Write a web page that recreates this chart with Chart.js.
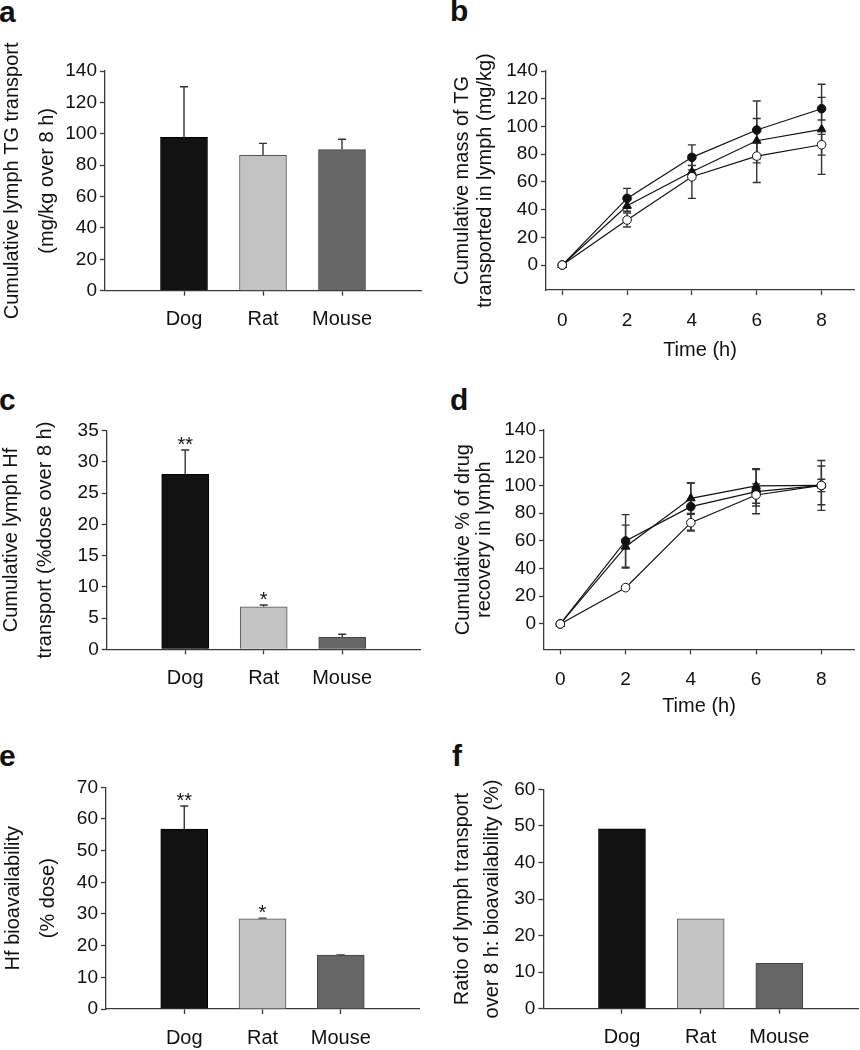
<!DOCTYPE html>
<html><head><meta charset="utf-8">
<script src="https://cdn.jsdelivr.net/npm/chart.js@4.4.0/dist/chart.umd.min.js"></script>
<style>
html,body{margin:0;padding:0;background:#fff;}
body{width:860px;height:1050px;position:relative;overflow:hidden;font-family:"Liberation Sans",Arial,Helvetica,sans-serif;}
.p{position:absolute;}
.lab{position:absolute;font-weight:bold;font-size:30px;line-height:30px;color:#111;}
</style></head><body>
<div class="lab" style="left:-1px;top:-3px">a</div>
<div class="lab" style="left:450px;top:-4px">b</div>
<div class="lab" style="left:-1px;top:385px">c</div>
<div class="lab" style="left:450px;top:385px">d</div>
<div class="lab" style="left:-1px;top:741px">e</div>
<div class="lab" style="left:452px;top:741px">f</div>
<script>
// ---------- data ----------
const species = ['Dog', 'Rat', 'Mouse'];
const speciesColors = ['#121212', '#c3c3c3', '#666666'];
const speciesBorders = ['#000000', '#555555', '#444444'];

// a: cumulative lymph TG transport (mg/kg over 8 h)
const tgTransport = [97.8, 86.3, 89.9];
const tgTransportErr = [32.2, 7.6, 6.6];
const tgTransportTicks = [0, 20, 40, 60, 80, 100, 120, 140];

// c: cumulative lymph Hf transport (%dose over 8 h)
const hfTransport = [28.0, 6.8, 1.9];
const hfTransportErr = [3.9, 0.3, 0.5];
const hfTransportSig = ['**', '*', ''];
const hfTransportTicks = [0, 5, 10, 15, 20, 25, 30, 35];

// e: Hf bioavailability (% dose)
const hfBioavail = [56.8, 28.5, 17.0];
const hfBioavailErr = [7.3, 0.2, 0.1];
const hfBioavailSig = ['**', '*', ''];
const hfBioavailTicks = [0, 10, 20, 30, 40, 50, 60, 70];

// f: ratio of lymph transport over 8 h : bioavailability (%)
const ratioLymphBio = [49.2, 24.6, 12.4];
const ratioTicks = [0, 10, 20, 30, 40, 50, 60];

// b & d: time course
const timeH = [0, 2, 4, 6, 8];
const timeTicks = [0, 2, 4, 6, 8];
const massTicks = [0, 20, 40, 60, 80, 100, 120, 140];

// b: cumulative mass of TG transported in lymph (mg/kg)
const tgMassFilled = [0, 48.1, 77.7, 97.4, 112.8];
const tgMassFilledErr = [0, 7.2, 9.0, 21.0, 8.2];
const tgMassTriangle = [0, 42.8, 67.3, 89.7, 97.9];
const tgMassTriangleErr = [0, 4.0, 4.5, 16.0, 32.5];
const tgMassOpen = [0, 32.5, 63.7, 78.6, 86.8];
const tgMassOpenErr = [0, 5.0, 15.6, 19.0, 7.5];

// d: cumulative % of drug recovery in lymph
const drugRecFilled = [0, 59.9, 84.7, 95.5, 100];
const drugRecFilledErr = [0, 19.0, 17.0, 16.0, 14.0];
const drugRecTriangle = [0, 55.8, 90.7, 99.6, 100];
const drugRecTriangleErr = [0, 15.5, 11.0, 12.5, 4.5];
const drugRecOpen = [0, 26.2, 73.1, 93.1, 100];
const drugRecOpenErr = [0, 1.0, 6.0, 8.0, 18.0];

// ---------- styling / helpers ----------
const FONT = '"Liberation Sans", Arial, Helvetica, sans-serif';
const AXIS = '#3a3a3a';
Chart.defaults.font.family = FONT;
Chart.defaults.color = '#111';

function zeroPad(s) { s.paddingLeft = 0; s.paddingRight = 0; s.paddingTop = 0; s.paddingBottom = 0; }

function addCanvas(box) {
  const d = document.createElement('div');
  d.className = 'p';
  Object.assign(d.style, {left: box.x + 'px', top: box.y + 'px', width: box.w + 'px', height: box.h + 'px'});
  const c = document.createElement('canvas');
  d.appendChild(c);
  document.body.appendChild(d);
  return c;
}

const errorBars = {
  id: 'errorBars',
  beforeDatasetsDraw(chart) {
    const ctx = chart.ctx, ys = chart.scales.y;
    chart.data.datasets.forEach((ds, di) => {
      if (!ds.errors) return;
      const meta = chart.getDatasetMeta(di);
      ctx.save();
      ctx.strokeStyle = '#333';
      ctx.lineWidth = 1.4;
      meta.data.forEach((el, i) => {
        const e = ds.errors[i];
        if (!e) return;
        const v = ds.data[i].y;
        const x = el.x;
        const yT = ys.getPixelForValue(v + e);
        const yB = ds.upperOnly ? ys.getPixelForValue(v) : ys.getPixelForValue(v - e);
        const hw = 4;
        ctx.beginPath();
        ctx.moveTo(x, yT); ctx.lineTo(x, yB);
        ctx.moveTo(x - hw, yT); ctx.lineTo(x + hw, yT);
        if (!ds.upperOnly) { ctx.moveTo(x - hw, yB); ctx.lineTo(x + hw, yB); }
        ctx.stroke();
      });
      ctx.restore();
    });
  },
  afterDatasetsDraw(chart) {
    const ctx = chart.ctx, ys = chart.scales.y;
    chart.data.datasets.forEach((ds, di) => {
      if (!ds.sig) return;
      const meta = chart.getDatasetMeta(di);
      ctx.save();
      ctx.fillStyle = '#111';
      ctx.font = '20px ' + FONT;
      ctx.textAlign = 'center';
      ctx.textBaseline = 'alphabetic';
      meta.data.forEach((el, i) => {
        if (!ds.sig[i]) return;
        const v = ds.data[i].y + (ds.errors ? ds.errors[i] : 0);
        ctx.fillText(ds.sig[i], el.x, ys.getPixelForValue(v) + 1);
      });
      ctx.restore();
    });
  }
};

function yScale(box, area, min, max, tickVals, title) {
  return {
    type: 'linear', min, max,
    afterBuildTicks(s) { s.ticks = tickVals.map(v => ({value: v})); },
    afterFit(s) { s.width = area.l - box.x; zeroPad(s); },
    border: {display: true, color: AXIS, width: 1.3},
    grid: {drawOnChartArea: false, drawTicks: true, tickLength: 5, tickColor: AXIS, tickWidth: 1.3},
    ticks: {color: '#111', font: {size: 19}, padding: 3, autoSkip: false},
    title: {display: true, text: title.text, color: '#111', align: 'center',
      font: {size: 20, lineHeight: title.lh / 20}, padding: {top: title.pad, bottom: 0}}
  };
}

function layoutPad(box, area, xH) {
  return {left: 0, top: area.t - box.y, right: box.x + box.w - area.r, bottom: box.y + box.h - area.b - xH};
}

function barPanel(box, area, xH, vals, errs, sig, yMax, tickVals, title) {
  const ds = {
    data: species.map((s, i) => ({x: i + 1, y: vals[i]})),
    backgroundColor: speciesColors, borderColor: speciesBorders, borderWidth: 1,
    barThickness: 47, borderSkipped: 'bottom'
  };
  if (errs) { ds.errors = errs; ds.upperOnly = true; }
  if (sig) ds.sig = sig;
  new Chart(addCanvas(box), {
    type: 'bar',
    data: {datasets: [ds]},
    plugins: [errorBars],
    options: {
      responsive: true, maintainAspectRatio: false, animation: false,
      layout: {padding: layoutPad(box, area, xH)},
      plugins: {legend: {display: false}, tooltip: {enabled: false}},
      scales: {
        x: {
          type: 'linear', min: 0, max: 4, offset: false,
          afterBuildTicks(s) { s.ticks = species.map((_, i) => ({value: i + 1})); },
          afterFit(s) { s.height = xH; zeroPad(s); },
          border: {display: true, color: AXIS, width: 1.3},
          grid: {offset: false, drawOnChartArea: false, drawTicks: true, tickLength: 5, tickColor: AXIS, tickWidth: 1.3},
          ticks: {callback: v => species[v - 1], color: '#111', font: {size: 20}, padding: 12, maxRotation: 0, autoSkip: false}
        },
        y: yScale(box, area, 0, yMax, tickVals, title)
      }
    }
  });
}

function linePanel(box, area, xH, series, yMin, title) {
  const datasets = series.map(s => ({
    data: timeH.map((t, i) => ({x: t, y: s.vals[i]})),
    errors: s.errs, upperOnly: false,
    borderColor: '#111', borderWidth: 1.2, tension: 0,
    pointStyle: s.style, pointRadius: s.r,
    pointBackgroundColor: s.fill, pointBorderColor: '#111', pointBorderWidth: 1
  }));
  new Chart(addCanvas(box), {
    type: 'line',
    data: {datasets},
    plugins: [errorBars],
    options: {
      responsive: true, maintainAspectRatio: false, animation: false,
      layout: {padding: layoutPad(box, area, xH)},
      plugins: {legend: {display: false}, tooltip: {enabled: false}},
      scales: {
        x: {
          type: 'linear', min: -0.5, max: 9,
          afterBuildTicks(s) { s.ticks = timeTicks.map(v => ({value: v})); },
          afterFit(s) { s.height = xH; zeroPad(s); },
          border: {display: true, color: AXIS, width: 1.3},
          grid: {drawOnChartArea: false, drawTicks: true, tickLength: 5, tickColor: AXIS, tickWidth: 1.3},
          ticks: {color: '#111', font: {size: 19}, padding: 14, maxRotation: 0, autoSkip: false},
          title: {display: true, text: 'Time (h)', color: '#111', font: {size: 20}, padding: {top: 0, bottom: 3}}
        },
        y: yScale(box, area, yMin, 140, massTicks, title)
      }
    }
  });
}

// ---------- panels ----------
// a
barPanel({x: 0, y: 30, w: 430, h: 320}, {l: 105, t: 71, r: 421, b: 290.7}, 50,
  tgTransport, tgTransportErr, null, 140, tgTransportTicks,
  {text: ['Cumulative lymph TG transport', '(mg/kg over 8 h)'], lh: 35, pad: -5.5});

// b
linePanel({x: 430, y: 30, w: 430, h: 340}, {l: 546, t: 71, r: 858.8, b: 290}, 75, [
  {vals: tgMassOpen, errs: tgMassOpenErr, style: 'circle', r: 4.3, fill: '#ffffff'},
  {vals: tgMassTriangle, errs: tgMassTriangleErr, style: 'triangle', r: 5, fill: '#111111'},
  {vals: tgMassFilled, errs: tgMassFilledErr, style: 'circle', r: 4.3, fill: '#111111'}
], -18, {text: ['Cumulative mass of TG', 'transported in lymph (mg/kg)'], lh: 23, pad: 20.5});

// c
barPanel({x: 0, y: 380, w: 430, h: 320}, {l: 106.7, t: 430.7, r: 420.7, b: 649.3}, 45,
  hfTransport, hfTransportErr, hfTransportSig, 35, hfTransportTicks,
  {text: ['Cumulative lymph Hf', 'transport (%dose over 8 h)'], lh: 34, pad: -6});

// d
linePanel({x: 430, y: 380, w: 430, h: 350}, {l: 544, t: 430, r: 857.4, b: 649.3}, 72, [
  {vals: drugRecOpen, errs: drugRecOpenErr, style: 'circle', r: 4.3, fill: '#ffffff'},
  {vals: drugRecTriangle, errs: drugRecTriangleErr, style: 'triangle', r: 5, fill: '#111111'},
  {vals: drugRecFilled, errs: drugRecFilledErr, style: 'circle', r: 4.3, fill: '#111111'}
], -18.3, {text: ['Cumulative % of drug', 'recovery in lymph'], lh: 21, pad: 22.5});

// e
barPanel({x: 0, y: 740, w: 430, h: 310}, {l: 106, t: 787.3, r: 419, b: 1009}, 40,
  hfBioavail, hfBioavailErr, hfBioavailSig, 70, hfBioavailTicks,
  {text: ['Hf bioavailability', '(% dose)'], lh: 35, pad: -4.5});

// f
barPanel({x: 430, y: 740, w: 430, h: 310}, {l: 543.3, t: 789.3, r: 858, b: 1008.7}, 40,
  ratioLymphBio, null, null, 60, ratioTicks,
  {text: ['Ratio of lymph transport', 'over 8 h: bioavailability (%)'], lh: 30, pad: 17});
</script>
</body></html>
